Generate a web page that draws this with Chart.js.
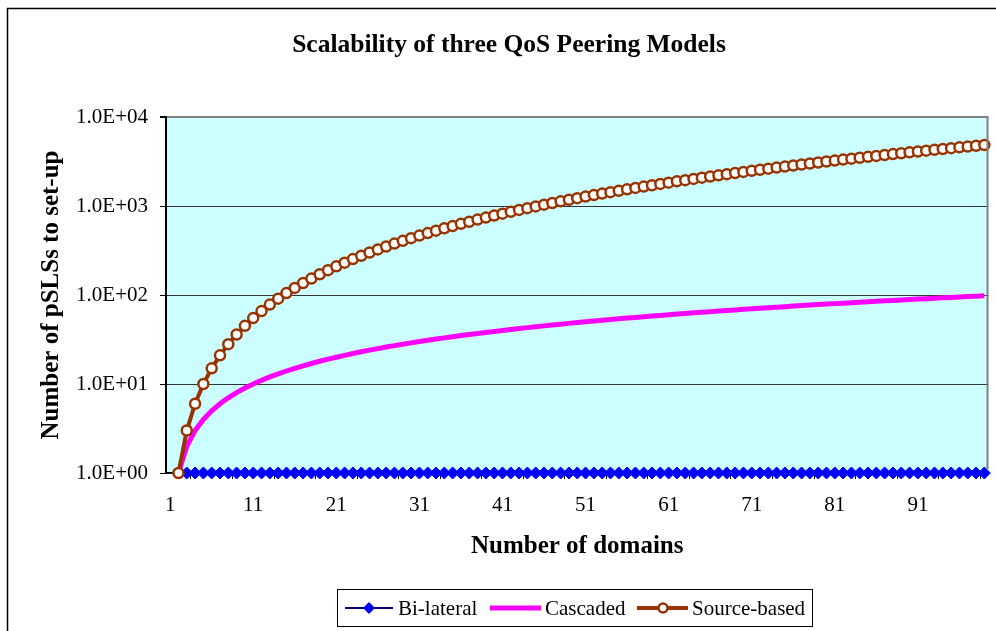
<!DOCTYPE html>
<html>
<head>
<meta charset="utf-8">
<script src="https://cdn.jsdelivr.net/npm/chart.js@4/dist/chart.umd.min.js"></script>
<style>
  body { margin: 0; background: #fff; }
  canvas { display: block; }
</style>
</head>
<body>
<canvas id="chart" width="996" height="631"></canvas>
<script>
// number of domains (category axis)
var domains = [1,2,3,4,5,6,7,8,9,10,11,12,13,14,15,16,17,18,19,20,21,22,23,24,25,26,27,28,29,30,
  31,32,33,34,35,36,37,38,39,40,41,42,43,44,45,46,47,48,49,50,51,52,53,54,55,56,57,58,59,60,
  61,62,63,64,65,66,67,68,69,70,71,72,73,74,75,76,77,78,79,80,81,82,83,84,85,86,87,88,89,90,
  91,92,93,94,95,96,97,98,99];

var bilateral = [null,1,1,1,1,1,1,1,1,1,1,1,1,1,1,1,1,1,1,1,1,1,1,1,1,1,1,1,1,1,
  1,1,1,1,1,1,1,1,1,1,1,1,1,1,1,1,1,1,1,1,1,1,1,1,1,1,1,1,1,1,
  1,1,1,1,1,1,1,1,1,1,1,1,1,1,1,1,1,1,1,1,1,1,1,1,1,1,1,1,1,1,
  1,1,1,1,1,1,1,1,1];

var cascaded = [null,1,2,3,4,5,6,7,8,9,10,11,12,13,14,15,16,17,18,19,20,21,22,23,24,25,26,27,28,29,
  30,31,32,33,34,35,36,37,38,39,40,41,42,43,44,45,46,47,48,49,50,51,52,53,54,55,56,57,58,59,
  60,61,62,63,64,65,66,67,68,69,70,71,72,73,74,75,76,77,78,79,80,81,82,83,84,85,86,87,88,89,
  90,91,92,93,94,95,96,97,98];

var sourceBased = [null,1,3,6,10,15,21,28,36,45,55,66,78,91,105,120,136,153,171,190,
  210,231,253,276,300,325,351,378,406,435,465,496,528,561,595,630,666,703,741,780,
  820,861,903,946,990,1035,1081,1128,1176,1225,1275,1326,1378,1431,1485,1540,1596,1653,1711,1770,
  1830,1891,1953,2016,2080,2145,2211,2278,2346,2415,2485,2556,2628,2701,2775,2850,2926,3003,3081,3160,
  3240,3321,3403,3486,3570,3655,3741,3828,3916,4005,4095,4186,4278,4371,4465,4560,4656,4753,4851];

var yTickValues = [1, 10, 100, 1000, 10000];
var yTickLabels = ['1.0E+00', '1.0E+01', '1.0E+02', '1.0E+03', '1.0E+04'];

var serif = '"Liberation Serif", "Times New Roman", serif';

var decorPlugin = {
  id: 'decor',
  beforeDraw: function(chart){
    var ctx = chart.ctx, a = chart.chartArea;
    ctx.save();
    ctx.fillStyle = '#fff';
    ctx.fillRect(0, 0, chart.width, chart.height);
    ctx.fillStyle = '#CCFFFF';
    ctx.fillRect(a.left, a.top, a.right - a.left, a.bottom - a.top);
    // outer frame (left and top visible)
    ctx.strokeStyle = '#000';
    ctx.lineWidth = 1.5;
    ctx.beginPath();
    ctx.moveTo(7.5, chart.height);
    ctx.lineTo(7.5, 8.5);
    ctx.lineTo(chart.width, 8.5);
    ctx.stroke();
    ctx.restore();
  },
  afterDraw: function(chart){
    var ctx = chart.ctx, a = chart.chartArea;
    ctx.save();
    // right border of the plot area
    ctx.strokeStyle = '#808080';
    ctx.lineWidth = 2;
    ctx.beginPath();
    ctx.moveTo(a.right - 1, a.top);
    ctx.lineTo(a.right - 1, a.bottom - 4);
    ctx.stroke();

    ctx.fillStyle = '#000';
    ctx.textAlign = 'center';
    ctx.textBaseline = 'middle';
    ctx.font = 'bold 25.5px ' + serif;
    ctx.fillText('Scalability of three QoS Peering Models', 509, 45);
    ctx.font = 'bold 25px ' + serif;
    ctx.fillText('Number of domains', (a.left + a.right) / 2, 547);
    ctx.save();
    ctx.translate(52, (a.top + a.bottom) / 2);
    ctx.rotate(-Math.PI / 2);
    ctx.fillText('Number of pSLSs to set-up', 0, 0);
    ctx.restore();

    // legend
    ctx.strokeStyle = '#000';
    ctx.lineWidth = 1;
    ctx.strokeRect(337.5, 589.5, 475, 37);
    ctx.font = '21px ' + serif;
    ctx.textAlign = 'left';
    var ly = 608;
    // Bi-lateral
    ctx.strokeStyle = '#000080';
    ctx.lineWidth = 2;
    ctx.beginPath(); ctx.moveTo(345, ly); ctx.lineTo(393, ly); ctx.stroke();
    ctx.fillStyle = '#0000FF';
    ctx.beginPath();
    ctx.moveTo(369, ly - 6); ctx.lineTo(375, ly); ctx.lineTo(369, ly + 6); ctx.lineTo(363, ly);
    ctx.closePath(); ctx.fill();
    ctx.fillStyle = '#000';
    ctx.fillText('Bi-lateral', 398, ly + 1);
    // Cascaded
    ctx.strokeStyle = '#FF00FF';
    ctx.lineWidth = 5;
    ctx.beginPath(); ctx.moveTo(490, ly); ctx.lineTo(541, ly); ctx.stroke();
    ctx.fillText('Cascaded', 545, ly + 1);
    // Source-based
    ctx.strokeStyle = '#993300';
    ctx.lineWidth = 4;
    ctx.beginPath(); ctx.moveTo(637, ly); ctx.lineTo(688, ly); ctx.stroke();
    ctx.fillStyle = '#fff';
    ctx.lineWidth = 2.5;
    ctx.beginPath(); ctx.arc(663, ly, 4.5, 0, Math.PI * 2); ctx.fill(); ctx.stroke();
    ctx.fillStyle = '#000';
    ctx.fillText('Source-based', 692, ly + 1);
    ctx.restore();
  }
};

window.onload = function(){
  var canvas = document.getElementById('chart');
  window.mainChart = new Chart(canvas.getContext('2d'), {
    type: 'line',
    data: {
      labels: domains,
      datasets: [{
        label: 'Bi-lateral',
        data: bilateral,
        borderColor: '#000080',
        borderWidth: 2,
        pointStyle: 'rectRot',
        pointRadius: 6,
        pointBackgroundColor: '#0000FF',
        pointBorderColor: '#0000FF',
        pointBorderWidth: 1,
        fill: false,
        clip: false,
        order: 2
      },{
        label: 'Cascaded',
        data: cascaded,
        borderColor: '#FF00FF',
        borderWidth: 5,
        pointRadius: 0,
        fill: false,
        clip: false,
        order: 1
      },{
        label: 'Source-based',
        data: sourceBased,
        borderColor: '#993300',
        borderWidth: 4,
        pointStyle: 'circle',
        pointRadius: 5,
        pointBackgroundColor: '#FFFFFF',
        pointBorderColor: '#993300',
        pointBorderWidth: 2.5,
        fill: false,
        clip: false,
        order: 0
      }]
    },
    options: {
      responsive: false,
      animation: false,
      layout: { padding: { left: 0, top: 117, right: 6, bottom: 118 } },
      plugins: {
        legend: { display: false },
        title: { display: false },
        tooltip: { enabled: false }
      },
      scales: {
        x: {
          type: 'category',
          offset: true,
          afterFit: function(s){ s.height = 40; },
          grid: {
            offset: true,
            drawOnChartArea: false,
            drawTicks: true,
            tickLength: 6,
            tickColor: '#000'
          },
          border: { color: '#000', width: 1.5 },
          ticks: {
            autoSkip: false,
            maxRotation: 0,
            padding: 14,
            color: '#000',
            font: { family: serif, size: 21 },
            callback: function(v, i){
              if (i % 10 === 0) return String(domains[i]);
              if (i % 5 === 0) return '';
              return null;
            }
          }
        },
        y: {
          type: 'logarithmic',
          min: 1,
          max: 10000,
          afterFit: function(s){ s.width = 166; },
          afterBuildTicks: function(s){
            s.ticks = yTickValues.map(function(v){ return { value: v }; });
          },
          grid: {
            color: function(c){ return c.tick && c.tick.value === 10000 ? '#808080' : '#333333'; },
            lineWidth: function(c){ return c.tick && c.tick.value === 10000 ? 2 : 1; },
            tickColor: '#000',
            tickLength: 6
          },
          border: { color: '#000', width: 2 },
          ticks: {
            padding: 12,
            color: '#000',
            font: { family: serif, size: 21 },
            callback: function(v){ return yTickLabels[yTickValues.indexOf(v)]; }
          }
        }
      }
    },
    plugins: [decorPlugin]
  });
};
</script>
</body>
</html>
